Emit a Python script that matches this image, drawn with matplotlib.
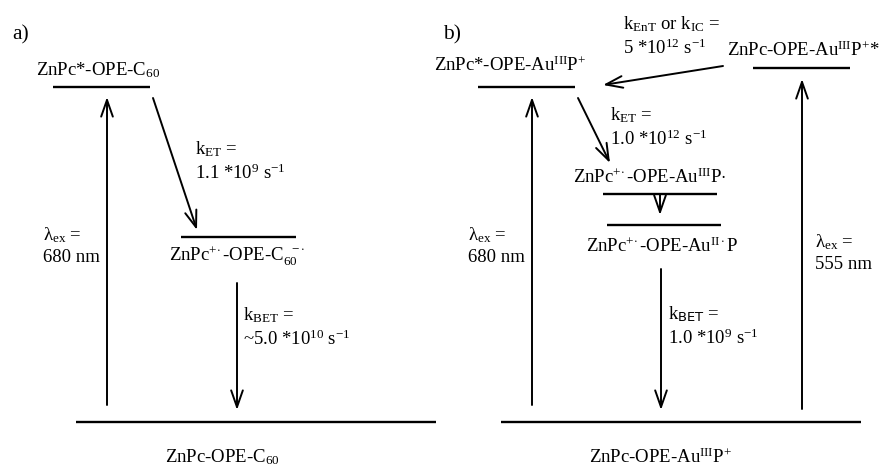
import matplotlib.pyplot as plt

plt.rcParams['font.family'] = ['Liberation Serif', 'DejaVu Serif']
plt.rcParams['mathtext.fontset'] = 'custom'
plt.rcParams['mathtext.rm'] = 'Liberation Serif'
plt.rcParams['mathtext.it'] = 'Liberation Serif:italic'
plt.rcParams['mathtext.sf'] = 'DejaVu Sans'

# energy levels: x start, x end, y (pixel-like units, y grows downward)
level_x0 = [53, 181, 76, 478, 753, 603, 607, 501]
level_x1 = [150, 296, 436, 575, 850, 717, 721, 861]
level_y = [87, 237, 422, 87, 68, 194, 225, 422]

# transitions: start point -> end point
arrow_x0 = [107, 153, 237, 532, 802, 723, 578, 660, 661]
arrow_y0 = [405, 98, 283, 405, 409, 66, 98, 194, 269]
arrow_x1 = [107, 197, 237, 532, 802, 603, 610, 660, 661]
arrow_y1 = [97, 230, 410, 97, 79, 85, 163, 215, 410]

# state labels (centred)
state_text = [
    'ZnPc*-OPE-C$_{60}$',
    'ZnPc$^{+\\!\\cdot}$-OPE-C$_{60}^{\\ \\ -\\!\\cdot}$',
    'ZnPc-OPE-C$_{60}$',
    'ZnPc*-OPE-Au$^{\\rm III}$P$^{+}$',
    'ZnPc-OPE-Au$^{\\rm III}$P$^{+}$*',
    'ZnPc$^{+\\!\\cdot}$-OPE-Au$^{\\rm III}$P$\\cdot$',
    'ZnPc$^{+\\!\\cdot}$-OPE-Au$^{\\rm II\\cdot}$P',
    'ZnPc-OPE-Au$^{\\rm III}$P$^{+}$',
]
state_x = [98, 237, 222, 510, 803, 650, 662, 660]
state_y = [70, 256, 457, 65, 50, 177, 246, 457]

# rate / wavelength notes (left aligned)
note_text = [
    'k$_{\\rm ET}$ =\n1.1 *10$^{9}$ s$^{-1}$',
    'λ$_{\\rm ex}$ =\n680 nm',
    'k$_{\\rm BET}$ =\n~5.0 *10$^{10}$ s$^{-1}$',
    'k$_{\\rm EnT}$ or k$_{\\rm IC}$ =\n5 *10$^{12}$ s$^{-1}$',
    'k$_{\\rm ET}$ =\n1.0 *10$^{12}$ s$^{-1}$',
    'λ$_{\\rm ex}$ =\n680 nm',
    'k$_{\\mathsf{BET}}$ =\n1.0 *10$^{9}$ s$^{-1}$',
    'λ$_{\\rm ex}$ =\n555 nm',
]
note_x = [195, 43, 243, 623, 610, 468, 668, 815]
note_y = [161, 246, 327, 36, 127, 246, 326, 253]

panel_text = ['a)', 'b)']
panel_x = [12, 443]
panel_y = [35, 35]

fig = plt.figure(figsize=(8.81, 4.66), dpi=100)
ax = fig.add_axes([0, 0, 1, 1])
ax.set_xlim(0, 881)
ax.set_ylim(466, 0)
ax.axis('off')

for x0, x1, y in zip(level_x0, level_x1, level_y):
    ax.plot([x0, x1], [y, y], color='black', lw=1.7, solid_capstyle='butt')

for x0, y0, x1, y1 in zip(arrow_x0, arrow_y0, arrow_x1, arrow_y1):
    ax.annotate('', xy=(x1, y1), xytext=(x0, y0),
                arrowprops=dict(arrowstyle='->,head_length=1.2,head_width=0.42',
                                mutation_scale=10, lw=1.4, color='black',
                                shrinkA=0, shrinkB=0))

for t, x, y in zip(state_text, state_x, state_y):
    ax.text(x, y, t, ha='center', va='center', fontsize=13.5)

for t, x, y in zip(note_text, note_x, note_y):
    ax.text(x, y, t, ha='left', va='center', fontsize=13.5, linespacing=1.3)

for t, x, y in zip(panel_text, panel_x, panel_y):
    ax.text(x, y, t, ha='left', va='center', fontsize=15.5)

fig.savefig('out.png', dpi=100)
